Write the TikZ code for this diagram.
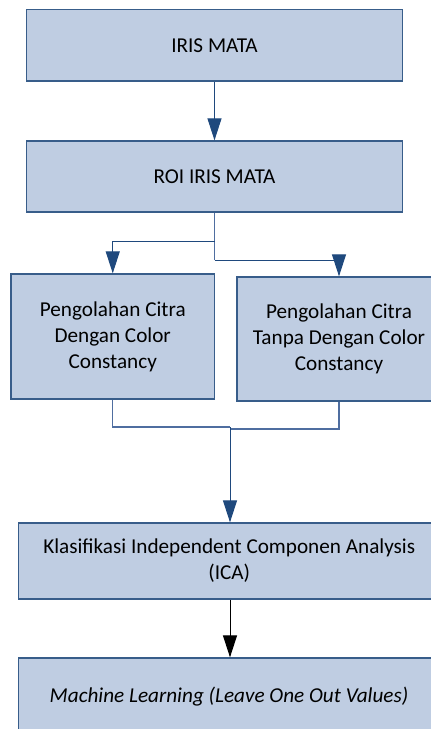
\documentclass[tikz,border=0pt]{standalone}
\usepackage{fontspec}
\setmainfont{Carlito}
\usetikzlibrary{arrows.meta}
\definecolor{boxfill}{RGB}{191,205,226}
\definecolor{boxline}{RGB}{56,93,138}
\definecolor{linkblue}{RGB}{31,73,125}
\definecolor{linklight}{RGB}{79,110,160}
\tikzset{
  x=1pt, y=-1pt,
  boxtext/.style={font=\fontsize{21.2}{26}\selectfont, text=black},
  box/.style={draw=boxline, line width=1.3pt, fill=boxfill, align=center,
    inner sep=0pt, boxtext},
  link/.style={draw=linkblue, line width=1pt,
    -{Triangle[length=22pt,width=14pt]}},
  branch/.style={draw=linklight, line width=1.4pt},
  darklink/.style={draw=black, line width=1pt,
    -{Triangle[length=22pt,width=14pt]}}
}
\begin{document}
\begin{tikzpicture}
\useasboundingbox (0,0) rectangle (431,729);
\clip (0,0) rectangle (431,729);

% process boxes
\node[box, minimum width=376pt, minimum height=71.5pt] (iris) at (214.5,45.25) {IRIS MATA};
\node[box, minimum width=376pt, minimum height=71pt] (roi) at (214.5,176.5) {ROI IRIS MATA};
\node[box, minimum width=203.5pt, minimum height=125pt] (withcc) at (112.75,336.5)
  {Pengolahan Citra\\Dengan Color\\Constancy};
\node[box, minimum width=204pt, minimum height=124pt] (nocc) at (339,339)
  {Pengolahan Citra\\Tanpa Dengan Color\\Constancy};
\node[box, minimum width=421.5pt, minimum height=76pt] (ica) at (229.25,561)
  {Klasifikasi Independent Componen Analysis\\(ICA)};
\node[box, minimum width=421.5pt, minimum height=90pt] (ml) at (229.25,703) {};
\node[boxtext, font=\fontsize{21.2}{26}\selectfont\itshape] (mltext) at (229,697)
  {Machine Learning (Leave One Out Values)};

% junction points
\coordinate (splitL) at (214.5,241);
\coordinate (splitR) at (214.5,260);
\coordinate (mergeL) at (112.75,427);
\coordinate (mergeR) at (339,429);
\coordinate (merge) at (230,428);

% connectors
\draw[link] (iris.south) -- (roi.north);
\draw[branch] (roi.south) -- (splitR);
\draw[link] (splitL) -| (withcc.north);
\draw[link] (splitR) -| (nocc.north);
\draw[branch] (withcc.south) |- (mergeL) -- (230,427);
\draw[branch] (nocc.south) |- (mergeR) -- (230,429);
\draw[link] (230,427) -- (ica.north -| merge);
\draw[darklink] (ica.south -| merge) -- (ml.north -| merge);
\end{tikzpicture}
\end{document}
